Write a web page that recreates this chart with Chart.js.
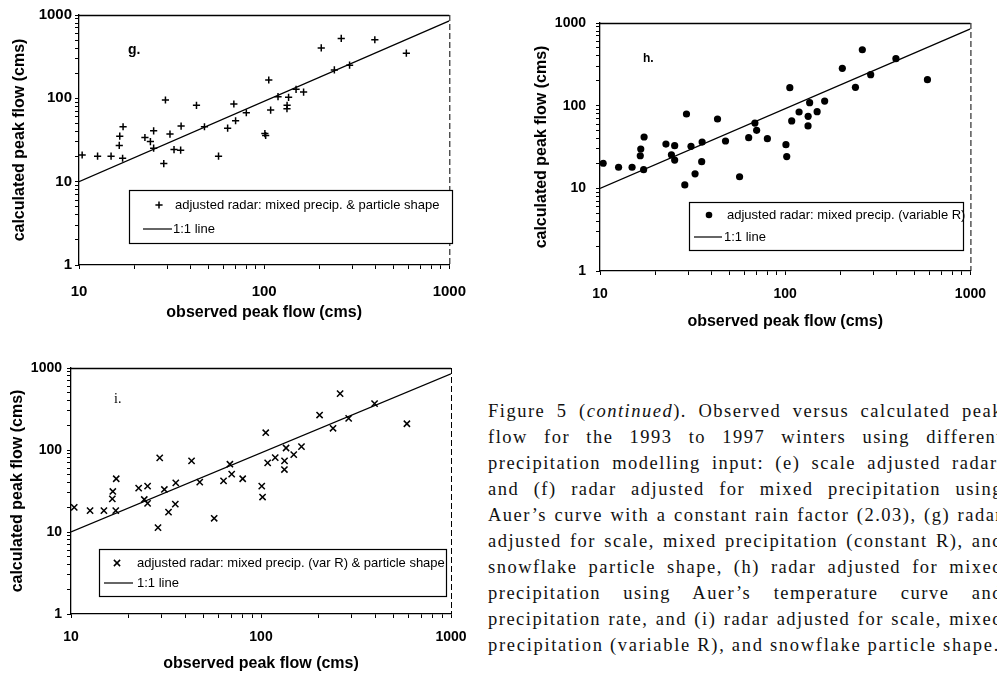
<!DOCTYPE html>
<html>
<head>
<meta charset="utf-8">
<script src="https://cdn.jsdelivr.net/npm/chart.js@4/dist/chart.umd.min.js"></script>
<style>
    html, body { margin: 0; padding: 0; background: #fff; }
    #page { position: relative; width: 997px; height: 676px; overflow: hidden; background: #fff; }
    .panel { position: absolute; }
    .panel canvas { display: block; }
    #caption {
        position: absolute; left: 488px; top: 398px; width: 515px;
        font-family: "Liberation Serif", "Times New Roman", serif;
        font-size: 18.5px; line-height: 26px; letter-spacing: 1.5px; color: #111;
    }
    #caption .ln { text-align: justify; text-align-last: justify; }
    #caption .ln.last { text-align: left; text-align-last: left; letter-spacing: 1.7px; white-space: nowrap; }
</style>
</head>
<body>
<div id="page">
    <div class="panel" style="left:0px;top:0px;"><canvas id="chartG" width="480" height="330"></canvas></div>
    <div class="panel" style="left:500px;top:0px;"><canvas id="chartH" width="497" height="340"></canvas></div>
    <div class="panel" style="left:0px;top:340px;"><canvas id="chartI" width="480" height="336"></canvas></div>
    <div id="caption">
        <div class="ln">Figure 5 (<i>continued</i>). Observed versus calculated peak</div>
        <div class="ln">flow for the 1993 to 1997 winters using different</div>
        <div class="ln">precipitation modelling input: (e) scale adjusted radar,</div>
        <div class="ln">and (f) radar adjusted for mixed precipitation using</div>
        <div class="ln">Auer’s curve with a constant rain factor (2.03), (g) radar</div>
        <div class="ln">adjusted for scale, mixed precipitation (constant R), and</div>
        <div class="ln">snowflake particle shape, (h) radar adjusted for mixed</div>
        <div class="ln">precipitation using Auer’s temperature curve and</div>
        <div class="ln">precipitation rate, and (i) radar adjusted for scale, mixed</div>
        <div class="ln last">precipitation (variable R), and snowflake particle shape.</div>
    </div>
</div>
<script>
// observed peak flow (cms), same events in all three panels
const observedFlow = [10.4, 12.6, 14.9, 16.5, 16.6, 17.3, 17.2, 22.7, 24.3, 25.3,
    25.3, 29.3, 28.7, 31.0, 32.6, 35.4, 35.6, 43.1, 47.6, 56.7,
    63.5, 68.6, 70.1, 80.1, 100.9, 101.9, 105.9, 108.4, 118.8, 132.8,
    133, 135.5, 148.7, 163.3, 203.4, 239.4, 260.8, 289.3, 396, 586];

// calculated peak flow (cms)
const calcG = [20.9, 20.2, 20.2, 27.2, 35.1, 45.6, 19.1, 33.9, 30.3, 40.7,
    25.2, 95.5, 16.5, 37.2, 24.3, 23.9, 46.4, 82.4, 45.6, 20.2,
    43.9, 85.5, 53.8, 67.1, 37.8, 35.8, 166, 72.3, 104.8, 75.1,
    82.4, 102.8, 128.3, 119, 403, 219, 523, 250, 505, 348];
const calcH = [20.1, 18.0, 18.0, 24.8, 29.9, 41.8, 16.8, 34.3, 25.5, 32.8,
    22.0, 79.3, 11.0, 32.2, 15.0, 21.0, 36.3, 69.0, 37.4, 13.8,
    41.0, 61.6, 50.3, 39.9, 33.7, 24.2, 165, 65.3, 83.8, 56.8,
    74.3, 108.6, 84.5, 113.8, 283, 166.8, 475, 237, 370, 206];
const calcI = [20.0, 18.2, 18.2, 25.4, 31.2, 44.6, 18.2, 34.3, 24.9, 36.2,
    22.3, 80.2, 11.3, 33.0, 17.5, 21.9, 39.8, 73.6, 40.5, 14.7,
    42.1, 67.1, 50.7, 44.6, 36.2, 26.7, 162.5, 69.7, 80.9, 57.8,
    73.6, 105.8, 87.7, 110, 267, 184, 486, 243, 367, 209];

// 1:1 reference line as drawn in the figure
const lineX = [10, 1000];
const lineY = [10, 850];

// axis ticks
const xTickLabels = [10, 100, 1000];
const yTickLabels = [1, 10, 100, 1000];

const legendLabelG = "adjusted radar: mixed precip. & particle shape";
const legendLabelH = "adjusted radar: mixed precip. (variable R)";
const legendLabelI = "adjusted radar: mixed precip. (var R) & particle shape";
const lineLabel = "1:1 line";

function logTicks(min, max) {
    let out = [];
    for (let p = min; p < max; p *= 10) {
        for (let k = 1; k < 10; k++) out.push(p * k);
    }
    out.push(max);
    return out;
}

function drawMarker(ctx, style, x, y, r) {
    ctx.beginPath();
    if (style === "circle") {
        ctx.arc(x, y, r, 0, Math.PI * 2);
        ctx.fill();
        return;
    }
    if (style === "cross") {
        ctx.moveTo(x - r, y); ctx.lineTo(x + r, y);
        ctx.moveTo(x, y - r); ctx.lineTo(x, y + r);
    } else {
        let d = r * Math.SQRT1_2;
        ctx.moveTo(x - d, y - d); ctx.lineTo(x + d, y + d);
        ctx.moveTo(x - d, y + d); ctx.lineTo(x + d, y - d);
    }
    ctx.stroke();
}

// frame, legend box and panel letter
const panelDecor = {
    id: "panelDecor",
    afterDraw(chart, args, o) {
        let ctx = chart.ctx;
        let a = chart.chartArea;
        ctx.save();
        ctx.strokeStyle = "#000";
        ctx.fillStyle = "#000";
        ctx.lineWidth = 1.3;
        ctx.beginPath();
        ctx.moveTo(a.left, a.top + 0.5);
        ctx.lineTo(a.right, a.top + 0.5);
        ctx.stroke();
        ctx.lineWidth = 1;
        ctx.setLineDash([6, 3]);
        ctx.beginPath();
        ctx.moveTo(a.right + 0.5, a.top);
        ctx.lineTo(a.right + 0.5, a.bottom);
        ctx.stroke();
        ctx.setLineDash([]);

        let b = o.box;
        ctx.fillStyle = "#fff";
        ctx.fillRect(b.x, b.y, b.w, b.h);
        ctx.strokeStyle = "#000";
        ctx.lineWidth = 1.2;
        ctx.strokeRect(b.x + 0.5, b.y + 0.5, b.w, b.h);

        ctx.fillStyle = "#000";
        ctx.lineWidth = 1.5;
        drawMarker(ctx, o.marker, b.x + o.markerX, b.y + o.row1, o.markerR);
        ctx.font = "13px 'Liberation Sans', Arial, sans-serif";
        ctx.textBaseline = "middle";
        ctx.textAlign = "left";
        ctx.fillText(o.label, b.x + o.textX, b.y + o.row1);
        ctx.lineWidth = 1.2;
        ctx.beginPath();
        ctx.moveTo(b.x + o.lineX0, b.y + o.row2);
        ctx.lineTo(b.x + o.lineX1, b.y + o.row2);
        ctx.stroke();
        ctx.fillText(lineLabel, b.x + o.text2X, b.y + o.row2);

        ctx.font = o.tagFont;
        ctx.textBaseline = "alphabetic";
        ctx.fillText(o.tag, o.tagX, o.tagY);
        ctx.restore();
    }
};

function makeChart(id, values, pointStyle, radius, fill, geo, decor) {
    let points = observedFlow.map(function (v, i) { return { x: v, y: values[i] }; });
    let line = lineX.map(function (v, i) { return { x: v, y: lineY[i] }; });
    let tickFont = { family: "'Liberation Sans', Arial, sans-serif", size: geo.tickSize, weight: "bold" };
    let titleFont = { family: "'Liberation Sans', Arial, sans-serif", size: 16, weight: "bold" };

    return new Chart(document.getElementById(id), {
        type: "scatter",
        data: {
            datasets: [{
                label: decor.label,
                data: points,
                pointStyle: pointStyle,
                pointRadius: radius,
                pointBorderWidth: fill ? 0 : 1.5,
                pointBackgroundColor: "#000",
                pointBorderColor: "#000",
                showLine: false
            }, {
                label: lineLabel,
                data: line,
                showLine: true,
                pointRadius: 0,
                borderColor: "#000",
                borderWidth: 1.3
            }]
        },
        options: {
            responsive: false,
            animation: false,
            devicePixelRatio: 1,
            layout: { padding: { top: geo.padTop, right: geo.padRight, left: 0, bottom: 0 } },
            plugins: {
                legend: { display: false },
                tooltip: { enabled: false },
                panelDecor: decor
            },
            scales: {
                x: {
                    type: "logarithmic",
                    min: 10,
                    max: 1000,
                    afterBuildTicks: function (s) { s.ticks = logTicks(10, 1000).map(function (v) { return { value: v }; }); },
                    afterFit: function (s) { s.height = geo.xHeight; },
                    ticks: {
                        autoSkip: false,
                        maxRotation: 0,
                        color: "#000",
                        font: tickFont,
                        padding: geo.xPad,
                        callback: function (v) { return xTickLabels.includes(v) ? String(v) : ""; }
                    },
                    grid: { drawOnChartArea: false, drawTicks: true, tickLength: 4, color: "#000" },
                    border: { display: true, color: "#000", width: 1.3 },
                    title: { display: true, text: "observed peak flow (cms)", color: "#000", font: titleFont, padding: { top: 0, bottom: geo.xTitlePad } }
                },
                y: {
                    type: "logarithmic",
                    min: 1,
                    max: 1000,
                    afterBuildTicks: function (s) { s.ticks = logTicks(1, 1000).map(function (v) { return { value: v }; }); },
                    afterFit: function (s) { s.width = geo.yWidth; },
                    ticks: {
                        autoSkip: false,
                        color: "#000",
                        font: tickFont,
                        padding: geo.yPad,
                        callback: function (v) { return yTickLabels.includes(v) ? String(v) : ""; }
                    },
                    grid: { drawOnChartArea: false, drawTicks: true, tickLength: 4, color: "#000" },
                    border: { display: true, color: "#000", width: 1.3 },
                    title: { display: true, text: "calculated peak flow (cms)", color: "#000", font: titleFont, padding: { top: geo.yTitlePad, bottom: 0 } }
                }
            }
        },
        plugins: [panelDecor]
    });
}

makeChart("chartG", calcG, "cross", 3.6, false,
    { padTop: 15, padRight: 22, xHeight: 65, yWidth: 79, tickSize: 15, xPad: 14, yPad: 3, xTitlePad: 8, yTitlePad: 10 },
    { label: legendLabelG, marker: "cross", markerR: 3.6,
      box: { x: 129, y: 190, w: 323, h: 53 },
      markerX: 30, row1: 15, textX: 46, lineX0: 14, lineX1: 43, row2: 39, text2X: 44,
      tag: "g.", tagX: 128, tagY: 54, tagFont: "bold 14px 'Liberation Sans', Arial, sans-serif" });

makeChart("chartH", calcH, "circle", 3.6, true,
    { padTop: 23, padRight: 20, xHeight: 69, yWidth: 100, tickSize: 14, xPad: 11, yPad: 10, xTitlePad: 9, yTitlePad: 32 },
    { label: legendLabelH, marker: "circle", markerR: 3.3,
      box: { x: 189, y: 202, w: 274, h: 48 },
      markerX: 20, row1: 13, textX: 38, lineX0: 5, lineX1: 33, row2: 35, text2X: 35,
      tag: "h.", tagX: 143, tagY: 62, tagFont: "bold 12px 'Liberation Sans', Arial, sans-serif" });

makeChart("chartI", calcI, "crossRot", 4.4, false,
    { padTop: 28, padRight: 29, xHeight: 62, yWidth: 71, tickSize: 14, xPad: 11, yPad: 5, xTitlePad: 3, yTitlePad: 8 },
    { label: legendLabelI, marker: "crossRot", markerR: 4.4,
      box: { x: 99, y: 209, w: 347, h: 47 },
      markerX: 18, row1: 14, textX: 38, lineX0: 5, lineX1: 34, row2: 34, text2X: 38,
      tag: "i.", tagX: 114, tagY: 63, tagFont: "14px 'Liberation Serif', 'Times New Roman', serif" });
</script>
</body>
</html>
